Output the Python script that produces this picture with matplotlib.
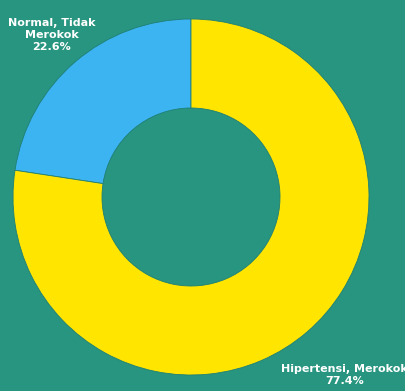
import numpy as np
import matplotlib
matplotlib.use('Agg')
import matplotlib.pyplot as plt

# status merokok / tekanan darah
labels = ['Normal, Tidak\nMerokok', 'Hipertensi, Merokok']
percent = [22.6, 77.4]
colors = ['#3db4f2', '#ffe500']
bg = '#27957f'

W, H = 406, 391
fig = plt.figure(figsize=(W / 100, H / 100), dpi=100, facecolor=bg)

# pie centre and radius in pixels
cx, cy, R = 191, 197, 178
ax = fig.add_axes([(cx - R) / W, (H - cy - R) / H, 2 * R / W, 2 * R / H])
ax.set_facecolor(bg)

wedges, _ = ax.pie(percent, colors=colors, startangle=90, counterclock=True, radius=1,
                   wedgeprops=dict(width=0.5, edgecolor='#1f7f75', linewidth=0.6))

# labels outside each wedge, at the wedge's middle angle
label_dist = [1.2, 1.32]
for w, lbl, p, d in zip(wedges, labels, percent, label_dist):
    ang = np.deg2rad((w.theta1 + w.theta2) / 2)
    ax.text(d * np.cos(ang), d * np.sin(ang), f'{lbl}\n{p:.1f}%',
            ha='center', va='center', multialignment='center', linespacing=1.25,
            color='white', fontsize=8, fontweight='bold', clip_on=False)

ax.set_xlim(-1, 1)
ax.set_ylim(-1, 1)
ax.set_aspect('equal')
ax.axis('off')

fig.savefig('out.png', dpi=100, facecolor=bg)
